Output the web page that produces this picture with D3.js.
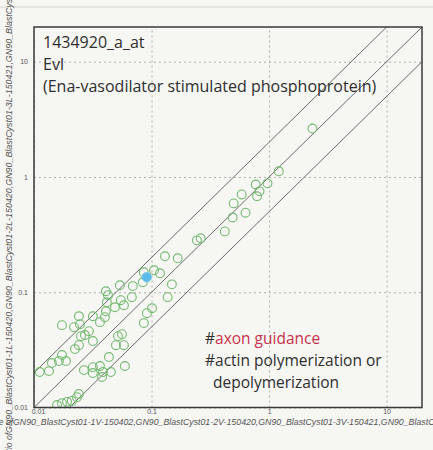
<!DOCTYPE html>
<html>
<head>
<meta charset="utf-8">
<script src="https://cdn.jsdelivr.net/npm/d3@7"></script>
<style>
  body { margin: 0; background: #f6f6f3; }
  svg { display: block; }
</style>
</head>
<body>
<div id="chart"></div>
<script>
// probe annotation
var probeId = "1434920_a_at";
var geneSymbol = "Evl";
var geneName = "(Ena-vasodilator stimulated phosphoprotein)";
var goTermRed = "axon guidance";
var goTermLines = ["#actin polymerization or", "depolymerization"];

// axis labels
var xTitlePrefix = "Value of ";
var xTitle = "GN90_BlastCyst01-1V-150402,GN90_BlastCyst01-2V-150420,GN90_BlastCyst01-3V-150421,GN90_BlastCyst01-4V-150421";
var yTitlePrefix = "Ratio of ";
var yTitle = "GN90_BlastCyst01-1L-150420,GN90_BlastCyst01-2L-150420,GN90_BlastCyst01-3L-150421,GN90_BlastCyst01-4L-150421";

var tickValues = [0.01, 0.1, 1, 10];
var tickLabels = ["0.01", "0.1", "1", "10"];

// y = r * x guide lines
var foldLines = [2, 1, 0.5];

// probe set values (x = V samples, y = L samples)
var sampleX = [2.34, 1.21, 0.97, 0.77, 0.83, 0.79, 0.585, 0.50, 0.63, 0.49, 0.42, 0.243, 0.262,
  0.130, 0.167, 0.105, 0.118, 0.086, 0.0843, 0.149, 0.0693, 0.068, 0.137, 0.101, 0.0912, 0.086,
  0.0538, 0.0409, 0.0426, 0.0548, 0.0417, 0.0582, 0.0488, 0.0409, 0.0317, 0.0241, 0.0401, 0.0364,
  0.0173, 0.0219, 0.0246, 0.0293, 0.0271, 0.0251, 0.0317, 0.0241, 0.0223, 0.0173, 0.0142, 0.0163, 0.0187, 0.0134, 0.0112,
  0.0518, 0.056, 0.0498, 0.0582, 0.0434, 0.0266, 0.0317, 0.0317, 0.0364, 0.0386, 0.0451, 0.0379, 0.0593,
  0.0241, 0.0232, 0.021, 0.0191, 0.0173, 0.0157];
var sampleY = [2.63, 1.12, 0.88, 0.86, 0.75, 0.68, 0.705, 0.59, 0.49, 0.445, 0.337, 0.282, 0.294,
  0.205, 0.197, 0.155, 0.146, 0.149, 0.122, 0.117, 0.113, 0.0906, 0.0906, 0.0726, 0.0658, 0.054,
  0.115, 0.102, 0.0942, 0.0853, 0.0818, 0.0771, 0.0741, 0.0684, 0.0619, 0.0619, 0.0608, 0.055,
  0.0518, 0.0498, 0.0528, 0.0459, 0.0425, 0.0416, 0.0377, 0.0347, 0.0321, 0.0285, 0.0243, 0.0253, 0.0253, 0.0207, 0.0203,
  0.0416, 0.0433, 0.0347, 0.0347, 0.0274, 0.0211, 0.0224, 0.0199, 0.0229, 0.0203, 0.0203, 0.0184, 0.0229,
  0.0131, 0.0123, 0.0114, 0.0112, 0.0109, 0.0105];

// highlighted probe
var markedX = [0.091];
var markedY = [0.135];

var W = 433, H = 450;
var plot = { left: 34, right: 422, top: 27, bottom: 407.5 };

var svg = d3.select("#chart").append("svg")
  .attr("width", W)
  .attr("height", H);

// faint page edge line across the top
svg.append("line")
  .attr("x1", 0).attr("x2", W)
  .attr("y1", 7).attr("y2", 7)
  .attr("stroke", "#d4d4d0")
  .attr("stroke-width", 1);

var x = d3.scaleLog().domain([0.01, 20]).range([plot.left, plot.right]);
var y = d3.scaleLog().domain([0.01, 20]).range([plot.bottom, plot.top]);

svg.append("clipPath").attr("id", "plotClip")
  .append("rect")
  .attr("x", plot.left).attr("y", plot.top)
  .attr("width", plot.right - plot.left).attr("height", plot.bottom - plot.top);

// grid + tick labels
var xAxis = svg.append("g")
  .attr("transform", "translate(0," + plot.bottom + ")")
  .call(d3.axisBottom(x).tickValues(tickValues)
    .tickFormat(function(d, i) { return tickLabels[i]; })
    .tickSize(-(plot.bottom - plot.top)).tickPadding(2));

var yAxis = svg.append("g")
  .attr("transform", "translate(" + plot.left + ",0)")
  .call(d3.axisLeft(y).tickValues(tickValues)
    .tickFormat(function(d, i) { return tickLabels[i]; })
    .tickSize(-(plot.right - plot.left)).tickPadding(6));

[xAxis, yAxis].forEach(function(g) {
  g.select(".domain").remove();
  g.selectAll(".tick line")
    .attr("stroke", "#b0b0ac")
    .attr("stroke-dasharray", "2,3");
  g.selectAll(".tick text")
    .attr("fill", "#555")
    .style("font-family", "Liberation Sans, Arial, sans-serif")
    .style("font-size", "7px");
});
xAxis.selectAll(".tick text").filter(function(d) { return d === 0.01; })
  .attr("dx", 4);

// fold-change guide lines
var guide = d3.line()
  .x(function(d) { return x(d[0]); })
  .y(function(d) { return y(d[1]); });

svg.append("g")
  .attr("clip-path", "url(#plotClip)")
  .selectAll("path")
  .data(foldLines)
  .join("path")
  .attr("d", function(r) { return guide([[0.001, 0.001 * r], [100, 100 * r]]); })
  .attr("fill", "none")
  .attr("stroke", "#6a6a6a")
  .attr("stroke-width", 1);

// points
var pts = sampleX.map(function(v, i) { return [v, sampleY[i]]; });

svg.append("g")
  .attr("clip-path", "url(#plotClip)")
  .selectAll("circle")
  .data(pts)
  .join("circle")
  .attr("cx", function(d) { return x(d[0]); })
  .attr("cy", function(d) { return y(d[1]); })
  .attr("r", 4.4)
  .attr("fill", "none")
  .attr("stroke", "#74b972")
  .attr("stroke-width", 1.1);

var marked = markedX.map(function(v, i) { return [v, markedY[i]]; });
svg.append("g")
  .selectAll("circle")
  .data(marked)
  .join("circle")
  .attr("cx", function(d) { return x(d[0]); })
  .attr("cy", function(d) { return y(d[1]); })
  .attr("r", 4.8)
  .attr("fill", "#5bbbe6")
  .attr("stroke", "#7fcbef")
  .attr("stroke-width", 1);

// plot frame
svg.append("rect")
  .attr("x", plot.left).attr("y", plot.top)
  .attr("width", plot.right - plot.left).attr("height", plot.bottom - plot.top)
  .attr("fill", "none")
  .attr("stroke", "#3a3a3a")
  .attr("stroke-width", 1.5);

// axis titles (run off the page edges)
var titleFont = "Liberation Sans, Arial, sans-serif";
svg.append("text")
  .attr("x", 13).attr("y", 425)
  .attr("text-anchor", "end")
  .attr("fill", "#555")
  .style("font-family", titleFont).style("font-size", "8.5px").style("font-style", "italic")
  .text(xTitlePrefix);
svg.append("text")
  .attr("x", 13).attr("y", 425)
  .attr("fill", "#555")
  .attr("textLength", 488).attr("lengthAdjust", "spacingAndGlyphs")
  .style("font-family", titleFont).style("font-size", "8.5px").style("font-style", "italic")
  .text(xTitle);

var yt = svg.append("g").attr("transform", "translate(12,433) rotate(-90)");
yt.append("text")
  .attr("text-anchor", "end")
  .attr("fill", "#555")
  .style("font-family", titleFont).style("font-size", "8.5px").style("font-style", "italic")
  .text(yTitlePrefix);
yt.append("text")
  .attr("fill", "#555")
  .attr("textLength", 492).attr("lengthAdjust", "spacingAndGlyphs")
  .style("font-family", titleFont).style("font-size", "8.5px").style("font-style", "italic")
  .text(yTitle);

// probe annotation
var noteFont = "Open Sans, Noto Sans, sans-serif";
var head = svg.append("g")
  .style("font-family", noteFont)
  .style("font-size", "16px")
  .attr("fill", "#2e2e2e");
head.append("text").attr("x", 43).attr("y", 48).text(probeId);
head.append("text").attr("x", 43).attr("y", 70).text(geneSymbol);
head.append("text").attr("x", 43).attr("y", 92).text(geneName);

var go = svg.append("g")
  .style("font-family", noteFont)
  .style("font-size", "15.5px")
  .attr("fill", "#2e2e2e");
var t1 = go.append("text").attr("x", 205).attr("y", 344);
t1.append("tspan").text("#");
t1.append("tspan").attr("fill", "#c8324a").text(goTermRed);
go.append("text").attr("x", 205).attr("y", 366).text(goTermLines[0]);
go.append("text").attr("x", 213).attr("y", 388).text(goTermLines[1]);
</script>
</body>
</html>
